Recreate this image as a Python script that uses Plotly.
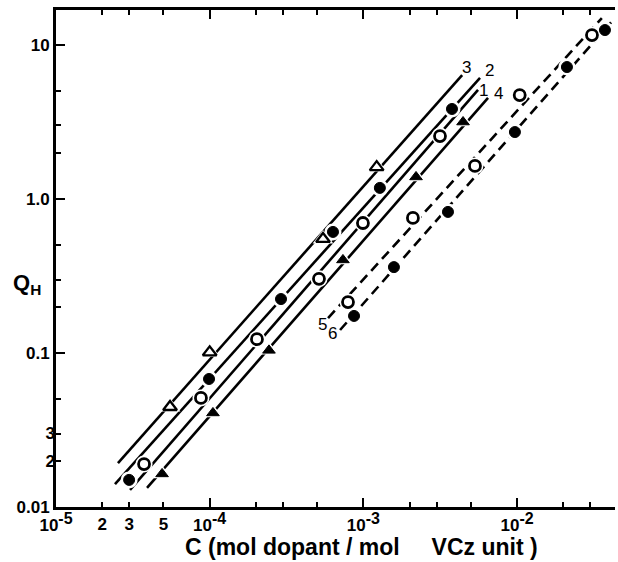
import plotly.graph_objects as go
import math

# ---------------- data ----------------
# Series 1: open circles (solid line 1)
s1_x = [3.74e-5, 8.77e-5, 2.03e-4, 5.14e-4, 9.93e-4, 3.15e-3]
s1_y = [0.0190, 0.0511, 0.123, 0.303, 0.698, 2.56]
# Series 2: filled circles (solid line 2)
s2_x = [2.99e-5, 9.9e-5, 2.91e-4, 6.34e-4, 1.28e-3, 3.77e-3]
s2_y = [0.0150, 0.0678, 0.224, 0.611, 1.18, 3.84]
# Series 3: open triangles (solid line 3)
s3_x = [5.52e-5, 1.0e-4, 5.46e-4, 1.22e-3]
s3_y = [0.0446, 0.101, 0.55, 1.61]
# Series 4: filled triangles (solid line 4)
s4_x = [4.9e-5, 1.05e-4, 2.43e-4, 7.36e-4, 2.20e-3, 4.45e-3]
s4_y = [0.0164, 0.0408, 0.104, 0.402, 1.39, 3.16]
# Series 5: open circles (dashed line 5)
s5_x = [7.94e-4, 2.10e-3, 5.32e-3, 1.04e-2, 3.07e-2]
s5_y = [0.214, 0.753, 1.64, 4.73, 11.6]
# Series 6: filled circles (dashed line 6)
s6_x = [8.69e-4, 1.58e-3, 3.55e-3, 9.68e-3, 2.11e-2, 3.73e-2]
s6_y = [0.174, 0.361, 0.824, 2.72, 7.19, 12.5]

# Fitted straight lines (end points)
l1_x = [3.03e-5, 5.57e-3]; l1_y = [0.0129, 5.11]
l2_x = [2.42e-5, 5.74e-3]; l2_y = [0.0141, 6.11]
l3_x = [2.53e-5, 4.39e-3]; l3_y = [0.0193, 6.38]
l4_x = [3.91e-5, 6.47e-3]; l4_y = [0.0133, 4.53]
l5_x = [5.89e-4, 3.56e-2]; l5_y = [0.1686, 14.96]
l6_x = [7.05e-4, 4.21e-2]; l6_y = [0.141, 14.5]

# Line labels (name, x, y)
lab_names = ["3", "2", "1", "4", "5", "6"]
lab_x = [4.72e-3, 6.60e-3, 6.00e-3, 7.60e-3, 5.38e-4, 6.25e-4]
lab_y = [7.19, 6.80, 5.10, 4.85, 0.152, 0.133]

# Axis ticks
x_major = [1e-5, 1e-4, 1e-3, 1e-2]
x_major_exp = ["-5", "-4", "-3", "-2"]
x_minor = [2e-5, 3e-5, 5e-5, 2e-4, 3e-4, 5e-4, 2e-3, 3e-3, 5e-3, 2e-2, 3e-2]
x_extra = [2e-5, 3e-5, 5e-5]
x_extra_text = ["2", "3", "5"]

y_major = [0.01, 0.1, 1.0, 10.0]
y_major_text = ["0.01", "0.1", "1.0", "10"]
y_minor = [0.02, 0.03, 0.05, 0.2, 0.3, 0.5, 2, 3, 5]
y_extra = [0.02, 0.03]
y_extra_text = ["2", "3"]

x_range = [-5, -1.363]
y_range = [-2, 1.227]

FONT = "Liberation Sans"
tickfont = dict(family=FONT, size=17, color="black", weight="bold")
x_major_text = ['10<sup><span style="font-size:16px">%s</span></sup>' % e for e in x_major_exp]

fig = go.Figure()

# lines
solid = [(l1_x, l1_y), (l2_x, l2_y), (l3_x, l3_y), (l4_x, l4_y)]
for lx, ly in solid:
    fig.add_trace(go.Scatter(x=lx, y=ly, mode="lines",
                             line=dict(color="black", width=2.6), hoverinfo="skip"))
for lx, ly in [(l5_x, l5_y), (l6_x, l6_y)]:
    fig.add_trace(go.Scatter(x=lx, y=ly, mode="lines",
                             line=dict(color="black", width=2.6, dash="10px,6px"),
                             hoverinfo="skip"))

series = [
    (s1_x, s1_y, "circle", "white", 11, 2.8),
    (s2_x, s2_y, "circle", "black", 11, 1),
    (s3_x, s3_y, "triangle-up", "white", 12, 2.3),
    (s4_x, s4_y, "triangle-up", "black", 11, 1),
    (s5_x, s5_y, "circle", "white", 11, 2.8),
    (s6_x, s6_y, "circle", "black", 11, 1),
]
# white halos (gaps in lines around markers)
for sx, sy, sym, fill, size, lw in series:
    fig.add_trace(go.Scatter(x=sx, y=sy, mode="markers",
                             marker=dict(symbol=sym, size=size + 6, color="white",
                                         line=dict(width=0)),
                             hoverinfo="skip"))
for sx, sy, sym, fill, size, lw in series:
    fig.add_trace(go.Scatter(x=sx, y=sy, mode="markers",
                             marker=dict(symbol=sym, size=size, color=fill,
                                         line=dict(color="black", width=lw))))

# invisible traces to activate overlay axes
fig.add_trace(go.Scatter(x=[1e-3], y=[1], xaxis="x3", yaxis="y", mode="markers",
                         marker=dict(opacity=0), hoverinfo="skip"))
fig.add_trace(go.Scatter(x=[1e-3], y=[1], xaxis="x", yaxis="y2", mode="markers",
                         marker=dict(opacity=0), hoverinfo="skip"))

annotations = []
for n, ax, ay in zip(lab_names, lab_x, lab_y):
    annotations.append(dict(x=math.log10(ax), y=math.log10(ay), xref="x", yref="y",
                            text=n, showarrow=False,
                            font=dict(family=FONT, size=17, color="black")))
annotations.append(dict(x=-0.0805, y=0.449, xref="paper", yref="paper",
                        xanchor="left", yanchor="middle", showarrow=False,
                        text="Q<sub>H</sub>",
                        font=dict(family=FONT, size=22, color="black", weight="bold")))
annotations.append(dict(x=0.5465, y=-0.081, xref="paper", yref="paper",
                        xanchor="center", yanchor="middle", showarrow=False,
                        text="C (mol dopant / mol\u00a0\u00a0\u00a0\u00a0\u00a0VCz unit )",
                        font=dict(family=FONT, size=23, color="black", weight="bold")))

fig.update_layout(
    width=618, height=562,
    margin=dict(l=56, r=3, t=10, b=55),
    paper_bgcolor="white", plot_bgcolor="white",
    showlegend=False,
    xaxis=dict(type="log", range=x_range, showline=True, linecolor="black", linewidth=2.5,
               mirror="ticks", ticks="inside", ticklen=9, tickwidth=2, tickcolor="black",
               tickmode="array", tickvals=x_major, ticktext=x_major_text, tickfont=tickfont,
               ticklabelstandoff=1,
               showgrid=False, zeroline=False,
               minor=dict(tickmode="array", tickvals=x_minor, ticks="inside", ticklen=5,
                          tickwidth=2, tickcolor="black", showgrid=False)),
    xaxis3=dict(type="log", range=x_range, overlaying="x", anchor="y", side="bottom",
                showline=False, ticks="", tickmode="array", tickvals=x_extra,
                ticktext=x_extra_text, tickfont=tickfont, ticklabelstandoff=5,
                showgrid=False, zeroline=False),
    yaxis=dict(type="log", range=y_range, showline=True, linecolor="black", linewidth=2.8,
               ticks="inside", ticklen=9, tickwidth=2, tickcolor="black",
               tickmode="array", tickvals=y_major, ticktext=y_major_text, tickfont=tickfont,
               showgrid=False, zeroline=False,
               minor=dict(tickmode="array", tickvals=y_minor, ticks="inside", ticklen=5,
                          tickwidth=2, tickcolor="black", showgrid=False)),
    yaxis2=dict(type="log", range=y_range, overlaying="y", anchor="x", side="left",
                showline=False, ticks="", tickmode="array", tickvals=y_extra,
                ticktext=y_extra_text, tickfont=tickfont, showgrid=False, zeroline=False),
    annotations=annotations,
)

fig.write_html("out.html")
